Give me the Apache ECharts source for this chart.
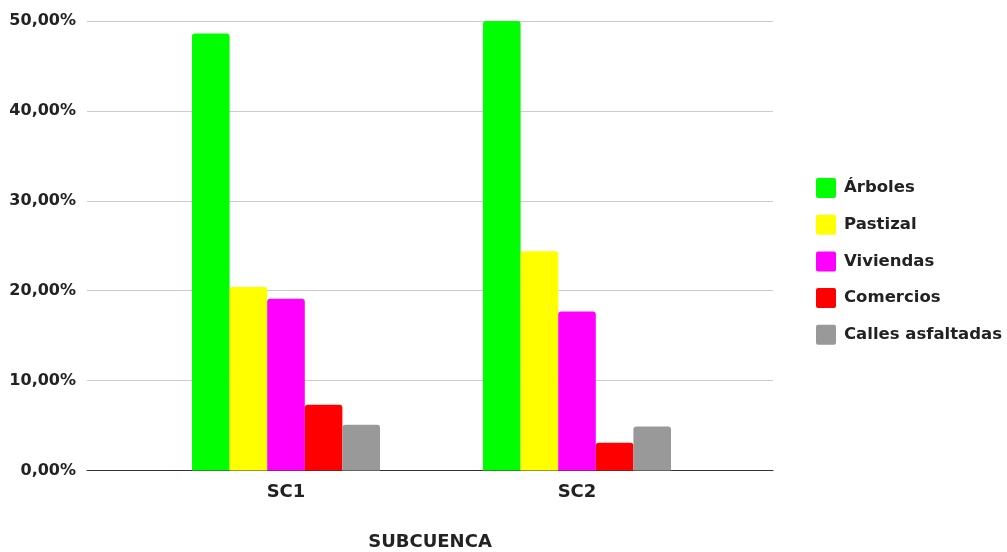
<!DOCTYPE html>
<html>
<head>
<meta charset="utf-8">
<script src="https://cdn.jsdelivr.net/npm/echarts@6/dist/echarts.min.js"></script>
<style>
    html, body { margin: 0; padding: 0; background: #fff; }
    #chart { width: 1007px; height: 552px; }
</style>
</head>
<body>
<div id="chart"></div>
<script>
//datos
var subcuencas = ['SC1', 'SC2'];
var arboles = [48.6, 50.0];
var pastizal = [20.4, 24.4];
var viviendas = [19.1, 17.7];
var comercios = [7.3, 3.1];
var calles = [5.1, 4.9];

var nombres = ['Árboles', 'Pastizal', 'Viviendas', 'Comercios', 'Calles asfaltadas'];
var colores = ['#00ff00', '#ffff00', '#ff00ff', '#ff0000', '#999999'];
var valores = [arboles, pastizal, viviendas, comercios, calles];

var fuente = 'DejaVu Sans';

var series = [];
for (var i = 0; i < nombres.length; i++) {
    series.push({
        name: nombres[i],
        type: 'bar',
        xAxisIndex: 1,
        yAxisIndex: 1,
        data: valores[i],
        barGap: '0%',
        barCategoryGap: '35.4%',
        itemStyle: { color: colores[i], borderRadius: [3, 3, 0, 0] }
    });
}

var myChart = echarts.init(document.getElementById('chart'));
var option = {
    backgroundColor: '#fff',
    animation: false,
    legend: {
        orient: 'vertical',
        left: 811,
        top: 173,
        itemWidth: 20,
        itemHeight: 20,
        itemGap: 16.7,
        icon: 'path://M2,0H18Q20,0 20,2V18Q20,20 18,20H2Q0,20 0,18V2Q0,0 2,0Z',
        data: nombres,
        textStyle: { fontFamily: fuente, fontWeight: 'bold', fontSize: 16.5, color: '#222', padding: [0, 0, 0, 3] }
    },
    grid: [
        { left: 87, right: 234, top: 21, bottom: 81.5, outerBoundsMode: 'none' },
        { left: 140.5, right: 284.5, top: 21, bottom: 81.5, outerBoundsMode: 'none' }
    ],
    xAxis: [
        {
            type: 'category',
            gridIndex: 0,
            data: subcuencas,
            name: 'SUBCUENCA',
            nameLocation: 'middle',
            nameGap: 63,
            nameTextStyle: { fontFamily: fuente, fontWeight: 'bold', fontSize: 18, color: '#222' },
            axisLine: { show: true, lineStyle: { color: '#333', width: 1 } },
            axisTick: { show: false },
            axisLabel: { show: false }
        },
        {
            type: 'category',
            gridIndex: 1,
            data: subcuencas,
            axisLine: { show: false },
            axisTick: { show: false },
            axisLabel: { margin: 13, fontFamily: fuente, fontWeight: 'bold', fontSize: 18, color: '#222' }
        }
    ],
    yAxis: [
        {
            type: 'value',
            gridIndex: 0,
            min: 0,
            max: 50,
            interval: 10,
            axisLine: { show: false },
            axisTick: { show: false },
            splitLine: { lineStyle: { color: '#cccccc', width: 1 } },
            axisLabel: {
                margin: 11,
                fontFamily: fuente, fontWeight: 'bold', fontSize: 16, color: '#222',
                formatter: function (v) { return v.toFixed(2).replace('.', ',') + '%'; }
            }
        },
        {
            type: 'value',
            gridIndex: 1,
            min: 0,
            max: 50,
            interval: 10,
            show: false
        }
    ],
    series: series
};
myChart.setOption(option);
</script>
</body>
</html>
